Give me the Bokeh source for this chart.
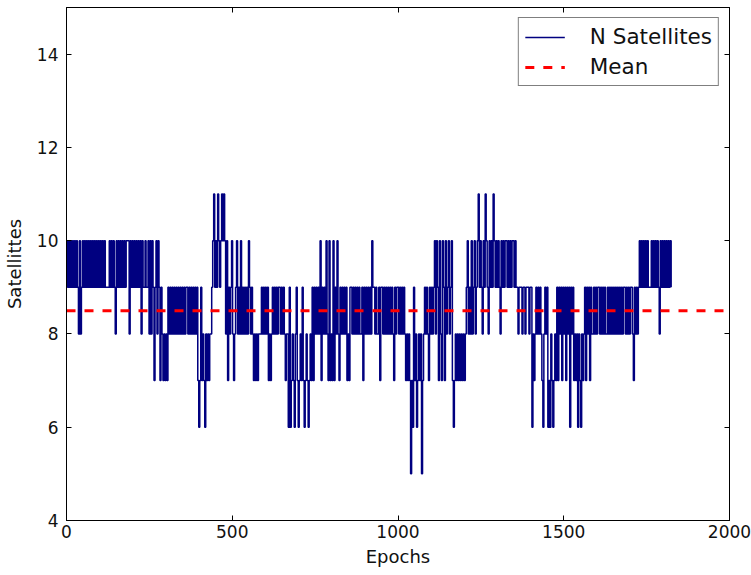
import numpy as np
from bokeh.plotting import figure
from bokeh.models import (LinearAxis, Legend, LegendItem, FixedTicker, Range1d,
                          ColumnDataSource)
from bokeh.embed import file_html
from bokeh.resources import INLINE

# ---------------- data ----------------
# number of visible satellites, one sample every 3 epochs
# code: digits = value, 'A' = 10, 'B' = 11
epoch_step = 3
sat_code = (
    # epochs 0 - 335
    "A9A9A9" "A9" "A9A9" "8A8" "9A9A9A" "9A" "9A9A9A9A9A9A9A9A" "9999" "A9A9"
    "A9" "8" "A9A9A9A9" "A9AAA" "8" "A9A9A9A9A9A" "8" "A99A99A" "8A8" "A979"
    "A8A9" "7" "9878787" "9898989898"
    # epochs 336 - 665
    "98989898" "99" "8989898989" "7679787687878" "89AB9A9BA9ABABA"
    "8A7989A8789A898A8989898A9898" "78787" "88898" "989897878"
    "989898998989878"
    # epochs 666 - 995
    "86967876897678797678767879" "7989898A79898A87A787A798A8798989897"
    "8799898989" "8988979898" "9898A99898" "8979989898" "989898798"
    # epochs 996 - 1313
    "998989898" "7878757697867878578" "9898798989" "A8A97A87A97A89A89A"
    "7678787878787" "89A898A89A" "89AB9A98A9" "BA98A9A9BA" "9A9A98A"
    # epochs 1314 - 1655
    "9A9AA9A9A9AA9A9" "989998998999899" "6878989898" "7689896768"
    "7678797989" "7989798969" "8978786876" "87897989798"
    "89898998989898898989898"
    # epochs 1656 - 1826
    "9898989899" "8989899879" "8989" "A9A9A9A9A9" "99A9A9A9A9"
    "8A9A9A9A9A" "9A9"
)
code_values = {"5": 5, "6": 6, "7": 7, "8": 8, "9": 9, "A": 10, "B": 11}
satellites = [code_values[c] for c in sat_code]
epochs = [i * epoch_step for i in range(len(satellites))]
mean_satellites = 8.5

x_ticks = [0, 500, 1000, 1500, 2000]
y_ticks = [4, 6, 8, 10, 12, 14]
x_start, x_end = 0, 2000
y_start, y_end = 4, 15

series_label = "N Satellites"
mean_label = "Mean"

# ---------------- figure ----------------
FONT = "DejaVu Sans"
p = figure(width=751, height=575, output_backend="svg", toolbar_location=None,
           x_range=Range1d(x_start, x_end), y_range=Range1d(y_start, y_end),
           min_border_left=64, min_border_right=22, min_border_top=7,
           min_border_bottom=55, x_axis_label="Epochs", y_axis_label="Satellittes")
p.background_fill_color = "white"
p.border_fill_color = "white"
p.outline_line_color = "black"
p.outline_line_width = 1
p.xgrid.visible = False
p.ygrid.visible = False

src = ColumnDataSource(dict(x=epochs, y=satellites))
r_sat = p.step("x", "y", source=src, mode="after", line_color="#000080",
               line_width=1.5)
r_mean = p.line([x_start, x_end], [mean_satellites, mean_satellites],
                line_color="#ff0000", line_width=3, line_dash="9 9")

xa = p.xaxis[0]
ya = p.yaxis[0]
for ax, ticks in ((xa, x_ticks), (ya, y_ticks)):
    ax.ticker = FixedTicker(ticks=ticks)
    ax.major_tick_in = 5
    ax.major_tick_out = 0
    ax.minor_tick_in = 0
    ax.minor_tick_out = 0
    ax.axis_line_color = "black"
    ax.major_tick_line_color = "black"
    ax.major_label_text_font = FONT
    ax.major_label_text_font_size = "17px"
    ax.major_label_text_color = "#111111"
    ax.axis_label_text_font = FONT
    ax.axis_label_text_font_size = "18px"
    ax.axis_label_text_font_style = "normal"
    ax.axis_label_text_color = "#111111"
xa.major_label_standoff = 4
xa.axis_label_standoff = 5
ya.major_label_standoff = 8
ya.axis_label_standoff = 9

# tick marks on the top and right frame edges (no labels)
for loc, ticks in (("above", x_ticks), ("right", y_ticks)):
    ax = LinearAxis(ticker=FixedTicker(ticks=ticks))
    ax.major_tick_in = 5
    ax.major_tick_out = 0
    ax.minor_tick_in = 0
    ax.minor_tick_out = 0
    ax.major_label_text_color = None
    ax.major_label_text_font_size = "1px"
    ax.major_label_standoff = 0
    ax.axis_line_color = "black"
    ax.major_tick_line_color = "black"
    p.add_layout(ax, loc)

legend = Legend(items=[LegendItem(label=series_label, renderers=[r_sat]),
                       LegendItem(label=mean_label, renderers=[r_mean])],
                location="top_right")
legend.label_text_font = FONT
legend.label_text_font_size = "21.5px"
legend.label_text_color = "#111111"
legend.border_line_color = "black"
legend.border_line_width = 1
legend.background_fill_color = "white"
legend.background_fill_alpha = 1
legend.glyph_width = 40
legend.glyph_height = 20
legend.label_height = 20
legend.label_standoff = 25
legend.padding = 6
legend.spacing = 5
legend.margin = 10
p.add_layout(legend)

open("out.html", "w").write(file_html(p, INLINE))
